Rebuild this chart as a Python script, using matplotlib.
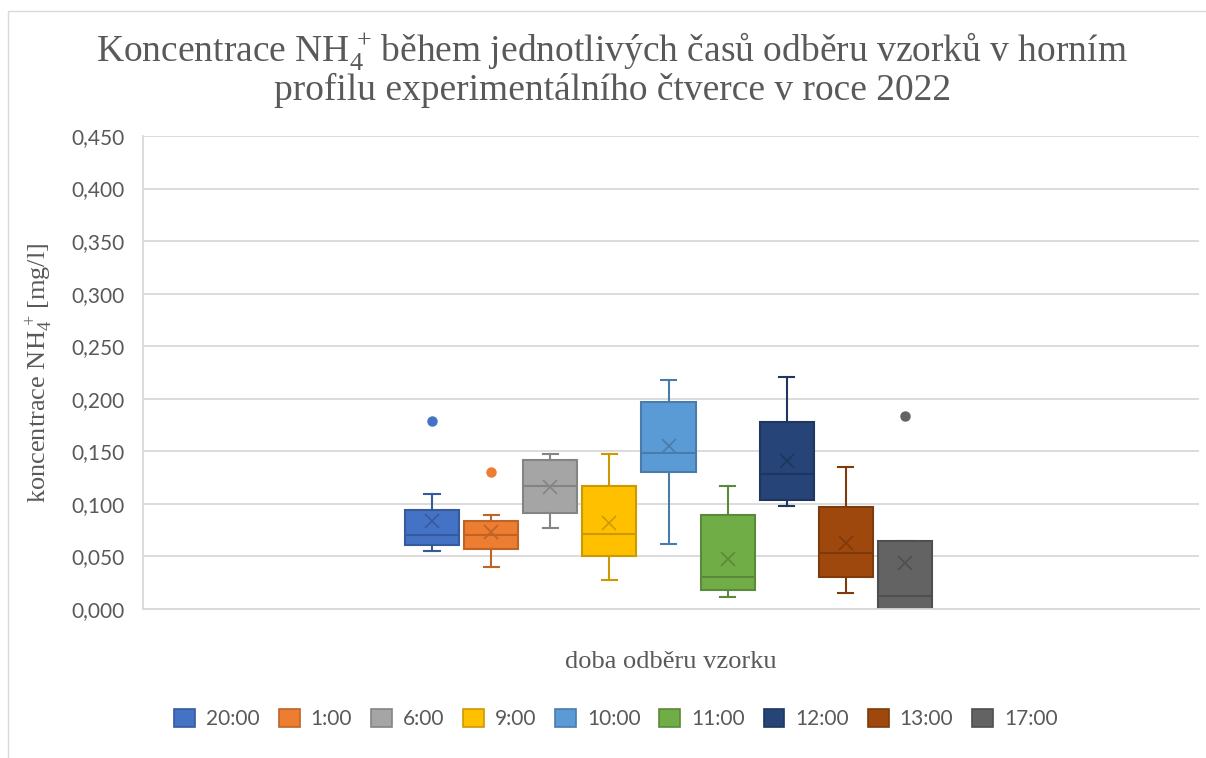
import matplotlib
matplotlib.use("Agg")
import matplotlib.pyplot as plt
import matplotlib.colors as mcolors
from matplotlib.patches import Patch, Rectangle
import numpy as np

plt.rcParams['mathtext.fontset'] = 'custom'
plt.rcParams['mathtext.rm'] = 'Liberation Serif'
plt.rcParams['mathtext.it'] = 'Liberation Serif:italic'
plt.rcParams['mathtext.default'] = 'regular'

# ---- data ----
times = ["20:00", "1:00", "6:00", "9:00", "10:00", "11:00", "12:00", "13:00", "17:00"]
whis_lo = [0.055, 0.040, 0.077, 0.028, 0.062, 0.011, 0.098, 0.015, 0.000]
q1      = [0.061, 0.057, 0.091, 0.050, 0.130, 0.018, 0.104, 0.030, 0.000]
median  = [0.070, 0.070, 0.117, 0.071, 0.148, 0.030, 0.128, 0.053, 0.012]
q3      = [0.094, 0.084, 0.142, 0.117, 0.197, 0.089, 0.178, 0.097, 0.065]
whis_hi = [0.109, 0.089, 0.147, 0.147, 0.218, 0.117, 0.221, 0.135, 0.065]
means   = [0.084, 0.073, 0.116, 0.082, 0.155, 0.048, 0.141, 0.063, 0.044]
outliers = [[0.179], [0.130], [], [], [], [], [], [], [0.184]]

y_ticks = [0.0, 0.05, 0.10, 0.15, 0.20, 0.25, 0.30, 0.35, 0.40, 0.45]
y_tick_labels = ["0,000", "0,050", "0,100", "0,150", "0,200", "0,250", "0,300", "0,350", "0,400", "0,450"]

title_lines = [r"Koncentrace NH$_4^{\,+}\!$ během jednotlivých časů odběru vzorků v horním",
               "profilu experimentálního čtverce v roce 2022"]
y_label = r"koncentrace NH$_4^{\,+}\!$ [mg/l]"
x_label = "doba odběru vzorku"

fills = ["#4472C4", "#ED7D31", "#A5A5A5", "#FFC000", "#5B9BD5",
         "#70AD47", "#264478", "#9E480E", "#636363"]

def darker(c, f=0.8):
    r, g, b = mcolors.to_rgb(c)
    return (r * f, g * f, b * f)

W, H = 1206, 758
fig = plt.figure(figsize=(W / 100, H / 100), dpi=100)
fig.patch.set_facecolor("white")

# chart border
fig.add_artist(Rectangle((8 / W, -0.01), 1.05, 1 - 11 / H + 0.01, transform=fig.transFigure,
                         fill=False, edgecolor="#D9D9D9", lw=1.0))

ax = fig.add_axes([143 / W, 1 - 609 / H, (1199 - 143) / W, (609 - 136) / H])

grid_c = "#D9D9D9"
text_c = "#595959"

positions = np.arange(len(times))
for i, t in enumerate(times):
    stats = [dict(med=median[i], q1=q1[i], q3=q3[i], whislo=whis_lo[i], whishi=whis_hi[i],
                  mean=means[i], fliers=outliers[i], label=t)]
    ec = darker(fills[i])
    ax.bxp(stats, positions=[positions[i]], widths=0.915, patch_artist=True,
           showmeans=True, showfliers=True, manage_ticks=False,
           boxprops=dict(facecolor=fills[i], edgecolor=ec, linewidth=1.5),
           medianprops=dict(color=ec, linewidth=1.5),
           whiskerprops=dict(color=ec, linewidth=1.5),
           capprops=dict(color=ec, linewidth=1.5),
           capwidths=0.26,
           meanprops=dict(marker="x", markeredgecolor=ec, markerfacecolor=ec,
                          markersize=10.5, markeredgewidth=1.2),
           flierprops=dict(marker="o", markerfacecolor=fills[i], markeredgecolor=fills[i],
                           markersize=6.5))

ax.set_xlim(4 - (668.5 - 143) / 59.1, 4 + (1199 - 668.5) / 59.1)
ax.set_ylim(0, 0.45)
ax.set_yticks(y_ticks)
ax.set_yticklabels(y_tick_labels)
ax.set_xticks([])
ax.yaxis.grid(True, color=grid_c, linewidth=1.3)
ax.set_axisbelow(True)
for s in ["top", "right"]:
    ax.spines[s].set_visible(False)
for s in ["left", "bottom"]:
    ax.spines[s].set_color(grid_c)
    ax.spines[s].set_linewidth(1.3)
ax.tick_params(axis="y", length=0, pad=13, labelsize=15, labelcolor=text_c)
for lab in ax.get_yticklabels():
    lab.set_fontfamily("Lato")

ax.set_ylabel(y_label, family="Liberation Serif", fontsize=19,
              color=text_c, labelpad=13)
ax.set_xlabel(x_label, family="Liberation Serif", fontsize=19,
              color=text_c, labelpad=30)

fig.text(612 / W, 1 - 61 / H, title_lines[0], ha="center", va="baseline",
         family="Liberation Serif", fontsize=27, color=text_c)
fig.text(613 / W, 1 - 100 / H, title_lines[1], ha="center", va="baseline",
         family="Liberation Serif", fontsize=27, color=text_c)

handles = [Patch(facecolor=fills[i], edgecolor=darker(fills[i]), linewidth=1.2) for i in range(len(times))]
leg = fig.legend(handles, times, loc="center", bbox_to_anchor=(616 / W, 1 - 719 / H),
                 ncol=len(times), frameon=False, handlelength=1.0, handleheight=0.96,
                 handletextpad=0.53, columnspacing=0.9,
                 prop=dict(family="Lato", size=15))
for txt in leg.get_texts():
    txt.set_color(text_c)

fig.savefig("out.png", dpi=100)
